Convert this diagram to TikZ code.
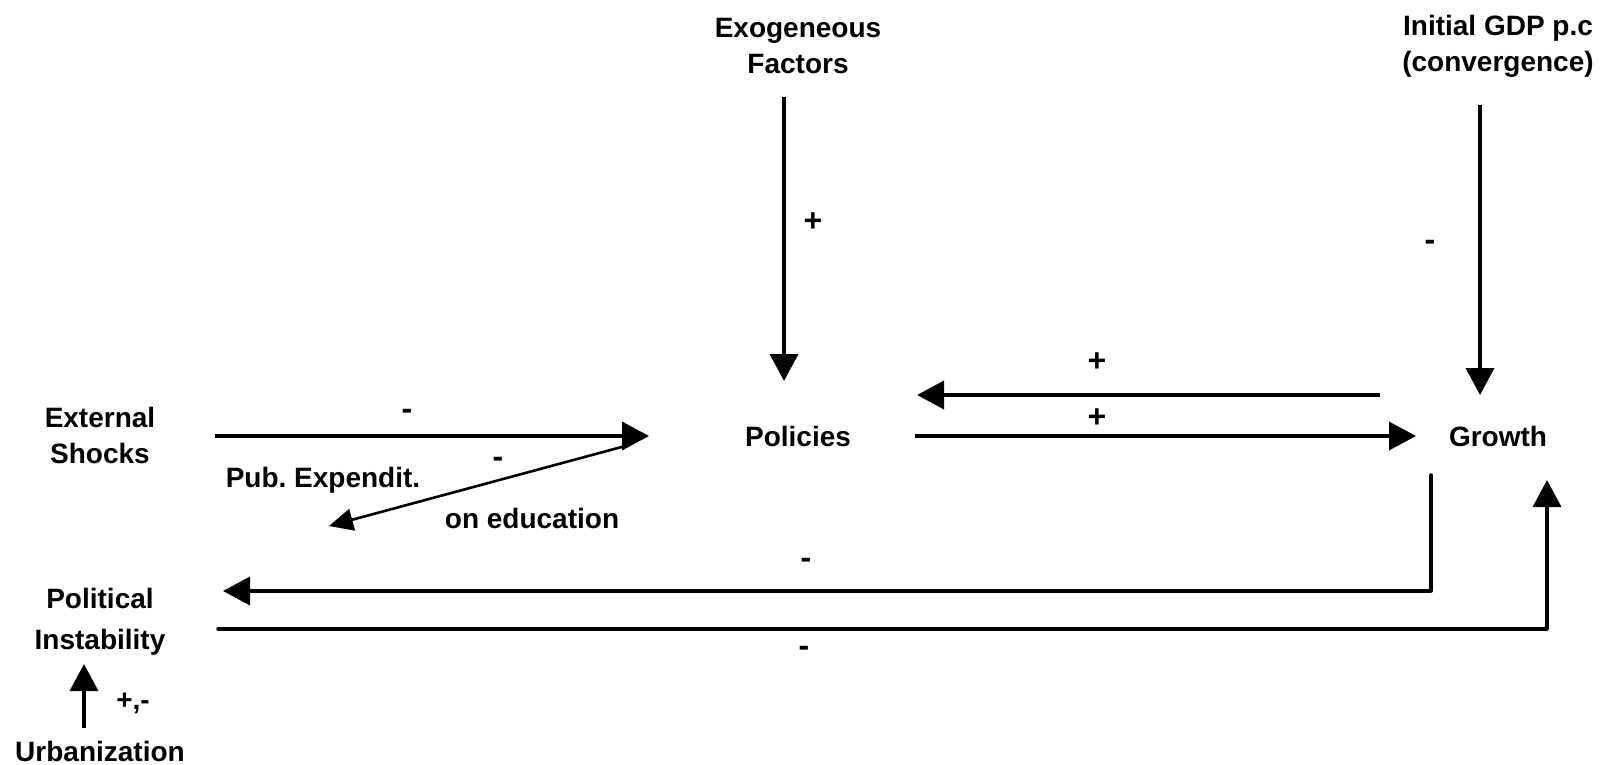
\documentclass[tikz,border=0pt]{standalone}
\usepackage{fontspec}
\setmainfont{Liberation Sans}
\usetikzlibrary{arrows.meta}
\begin{document}
\frenchspacing
\begin{tikzpicture}[x=1pt,y=-1pt,
  lbl/.style={font=\fontsize{28}{36}\selectfont\bfseries, align=center, inner sep=0pt},
  sign/.style={font=\fontsize{32}{34}\selectfont\bfseries, inner sep=0pt},
  arr/.style={line width=3.5pt, -{Triangle[length=27pt,width=28pt]}},
  thinarr/.style={line width=2.6pt, -{Triangle[length=24pt,width=22pt]}},
  ln/.style={line width=3.5pt, line cap=round, line join=round}]
\useasboundingbox (0,0) rectangle (1603,765);
% nodes
\node[lbl] (exo) at (798,46) {Exogeneous\\Factors};
\node[lbl] (gdp) at (1498,46) {Initial GDP p.c\\(convergence)};
\node[lbl] (ext) at (100,435) {External\\Shocks};
\node[lbl] (pol) at (798,436) {Policies};
\node[lbl] (gro) at (1498,436) {Growth};
\node[lbl] (pub) at (323,480) {Pub. Expendit.};
\node[lbl] (edu) at (532,518) {on education};
\node[lbl, font=\fontsize{28}{41}\selectfont\bfseries] (pi) at (100,622) {Political\\Instability};
\node[lbl] (urb) at (100,751) {Urbanization};
% endpoints
\coordinate (exoS) at (784,97);   \coordinate (polN) at (784,381);
\coordinate (gdpS) at (1480,105); \coordinate (groN) at (1480,395);
\coordinate (extE) at (215,436);  \coordinate (polW) at (649,436);
\coordinate (pubS) at (629,445);  \coordinate (pubE) at (329,526);
\coordinate (groW1) at (1380,395); \coordinate (polE1) at (917,395);
\coordinate (polE2) at (915,436); \coordinate (groW2) at (1416,436);
\coordinate (groS) at (1431,475); \coordinate (groC) at (1431,591); \coordinate (piE1) at (223,591);
\coordinate (piE2) at (218,629); \coordinate (piC) at (1547,629); \coordinate (groS2) at (1547,480);
\coordinate (urbN) at (84,728); \coordinate (piS) at (84,664);
% connectors
\draw[arr] (exoS) -- (polN);
\draw[arr] (gdpS) -- (groN);
\draw[arr] (extE) -- (polW);
\draw[thinarr] (pubS) -- (pubE);
\draw[arr] (groW1) -- (polE1);
\draw[arr] (polE2) -- (groW2);
\draw[ln] (groS) -- (groC);
\draw[arr] (groC) -- (piE1);
\draw[ln] (piE2) -- (piC);
\draw[arr] (piC) -- (groS2);
\draw[arr] (urbN) -- (piS);
% signs
\node[sign] (s1) at (813,222) {+};
\node[sign] (s2) at (1430,245) {-};
\node[sign] (s3) at (407,414) {-};
\node[sign] (s4) at (498,462) {-};
\node[sign] (s5) at (1097,362) {+};
\node[sign] (s6) at (1097,418) {+};
\node[sign] (s7) at (806,563) {-};
\node[sign] (s8) at (804,651) {-};
\node[sign, font=\fontsize{28}{30}\selectfont\bfseries] (s9) at (133,703) {+,-};
\end{tikzpicture}
\end{document}
